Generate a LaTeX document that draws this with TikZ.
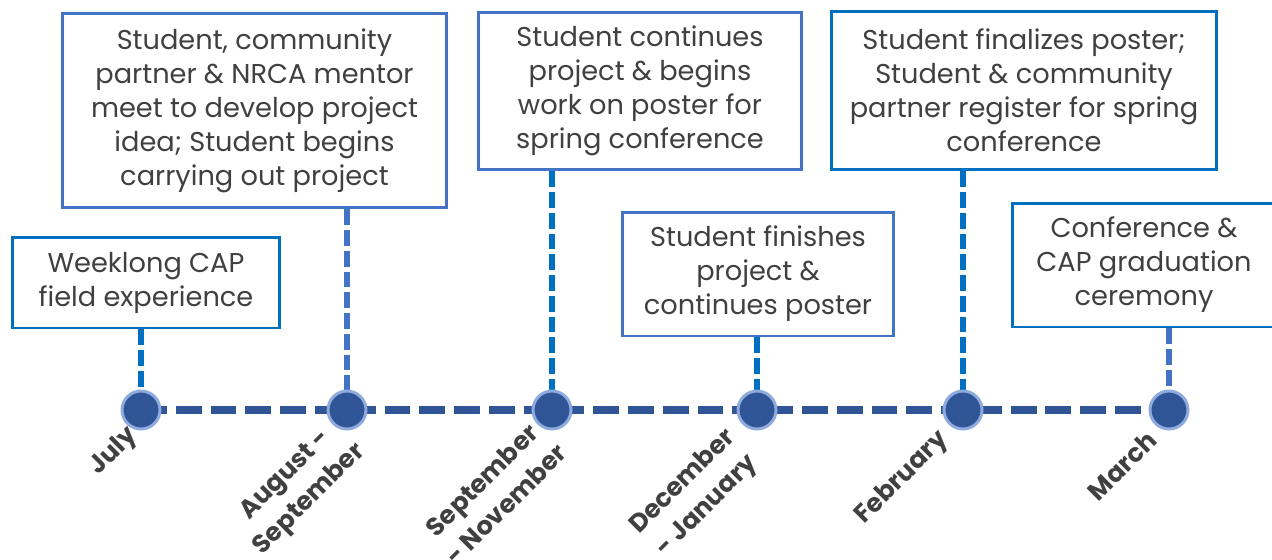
\documentclass[tikz,border=0pt]{standalone}
\usepackage{fontspec}
\setmainfont{Poppins}
\usetikzlibrary{backgrounds}
\definecolor{darkblue}{HTML}{2F5597}
\definecolor{lightring}{HTML}{8FAADC}
\definecolor{brightblue}{HTML}{0070C0}
\definecolor{softblue}{HTML}{4472C4}
\definecolor{textgray}{HTML}{404040}
\begin{document}
\begin{tikzpicture}[x=0.02cm, y=-0.02cm,
  box/.style={draw, line width=1.7pt, fill=white, align=center, text=textgray, inner sep=0pt, font=\fontsize{15.5}{19.3}\selectfont},
  dot/.style={circle, fill=darkblue, draw=lightring, line width=1.7pt, minimum size=0.76cm, inner sep=0pt},
  link/.style={line width=3.1pt, dash pattern=on 9pt off 2.8pt},
  month/.style={rotate=45, anchor=east, align=center, text=textgray, font=\bfseries\fontsize{14.5}{19.5}\selectfont, inner sep=0pt}]
\useasboundingbox (0,0) rectangle (1272,559);

% boxes
\node[box, draw=brightblue, minimum width=5.36cm, minimum height=1.82cm] (b1) at (146,282.5) {Weeklong CAP\\field experience};
\node[box, draw=softblue, minimum width=7.7cm, minimum height=3.9cm] (b2) at (254.5,110.5) {Student, community\\partner \& NRCA mentor\\meet to develop project\\idea; Student begins\\carrying out project};
\node[box, draw=softblue, minimum width=6.48cm, minimum height=3.16cm] (b3) at (640,91) {Student continues\\project \& begins\\work on poster for\\spring conference};
\node[box, draw=softblue, minimum width=5.44cm, minimum height=2.48cm] (b4) at (758,274) {Student finishes\\project \&\\continues poster};
\node[box, draw=brightblue, minimum width=7.72cm, minimum height=3.18cm] (b5) at (1024,90.5) {Student finalizes poster;\\Student \& community\\partner register for spring\\conference};
\node[box, draw=brightblue, minimum width=5.28cm, minimum height=2.48cm] (b6) at (1144,265) {Conference \&\\CAP graduation\\ceremony};

% dots on the timeline
\node[dot] (m1) at (141,410) {};
\node[dot] (m2) at (347,410) {};
\node[dot] (m3) at (552,410) {};
\node[dot] (m4) at (757,410) {};
\node[dot] (m5) at (963,410) {};
\node[dot] (m6) at (1169,410) {};

\begin{scope}[on background layer]
\draw[darkblue, line width=4.25pt, dash pattern=on 14.7pt off 5.1pt] (m1.center) -- (m6.center); % timeline
\draw[link, brightblue] (m1.north |- b1.south) -- (m1.north);
\draw[link, softblue] (m2.north |- b2.south) -- (m2.north);
\draw[link, brightblue] (m3.north |- b3.south) -- (m3.north);
\draw[link, brightblue] (m4.north |- b4.south) -- (m4.north);
\draw[link, brightblue] (m5.north |- b5.south) -- (m5.north);
\draw[link, softblue] (m6.north |- b6.south) -- (m6.north);
\end{scope}

% month labels
\node[month] (l1) at (134,432) {July};
\node[month] (l2) at (350,436) {August -\\September};
\node[month] (l3) at (550,436) {September\\- November};
\node[month] (l4) at (744,446) {December\\- January};
\node[month] (l5) at (945,436) {February};
\node[month] (l6) at (1152,436) {March};
\end{tikzpicture}
\end{document}
